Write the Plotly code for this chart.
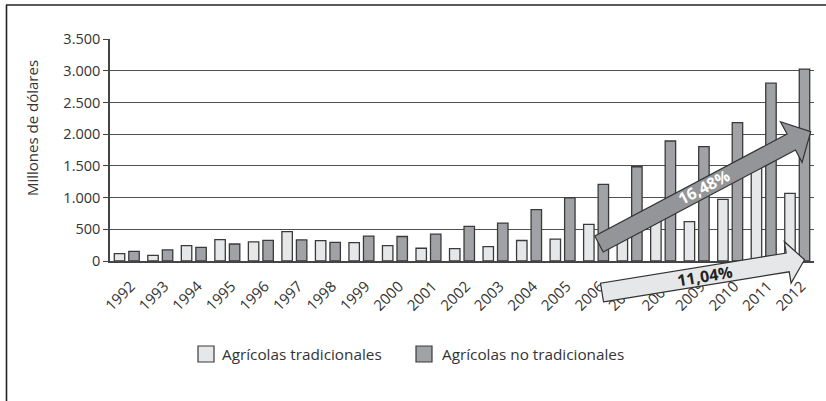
import math
import plotly.graph_objects as go

# Export values, millions of US dollars
years = [str(y) for y in range(1992, 2013)]
tradicionales = [116, 90, 242, 337, 300, 463, 321, 291, 243, 201, 196, 228,
                 323, 344, 577, 460, 690, 622, 970, 1650, 1065]
no_tradicionales = [153, 174, 216, 268, 326, 332, 295, 392, 386, 423, 545, 598,
                    810, 996, 1207, 1486, 1892, 1803, 2182, 2804, 3026]
series_names = ["Agrícolas tradicionales", "Agrícolas no tradicionales"]
growth_labels = ["16,48%", "11,04%"]

W, H = 826, 401
ML, MR, MT, MB = 110, 12, 39, 140
PW, PH = W - ML - MR, H - MT - MB

LIGHT = "#e6e7e8"
DARK = "#a0a2a5"
EDGE = "#3a3a3a"
TEXT = "#333333"
FONT = "Open Sans"


def px(x):
    return (x - ML) / PW


def py(y):
    return (H - MB - y) / PH


def arrow_path(tail, tip, shaft_w, head_w, head_l):
    dx, dy = tip[0] - tail[0], tip[1] - tail[1]
    L = math.hypot(dx, dy)
    ux, uy = dx / L, dy / L
    nx, ny = -uy, ux
    bx, by = tip[0] - ux * head_l, tip[1] - uy * head_l
    s, h = shaft_w / 2, head_w / 2
    pts = [
        (tail[0] + nx * s, tail[1] + ny * s),
        (bx + nx * s, by + ny * s),
        (bx + nx * h, by + ny * h),
        tip,
        (bx - nx * h, by - ny * h),
        (bx - nx * s, by - ny * s),
        (tail[0] - nx * s, tail[1] - ny * s),
    ]
    return "M " + " L ".join(f"{px(x):.5f},{py(y):.5f}" for x, y in pts) + " Z"


def label(text, x, y, size, color=TEXT, angle=0, xanchor="center", bold=False):
    font = dict(family=FONT, size=size, color=color)
    if bold:
        font["weight"] = "bold"
    return dict(text=text, xref="paper", yref="paper", x=px(x), y=py(y),
                xanchor=xanchor, yanchor="middle", textangle=angle,
                showarrow=False, font=font)


fig = go.Figure()
fig.add_trace(go.Bar(x=years, y=tradicionales, name=series_names[0],
                     marker=dict(color=LIGHT, line=dict(color=EDGE, width=1.3))))
fig.add_trace(go.Bar(x=years, y=no_tradicionales, name=series_names[1],
                     marker=dict(color=DARK, line=dict(color=EDGE, width=1.3))))

shapes = []
# growth arrows drawn over the bars
shapes.append(dict(type="path", xref="paper", yref="paper", layer="above",
                   path=arrow_path((599, 244), (810.7, 131.7), 18, 46, 22),
                   fillcolor="#939598", line=dict(color="#333333", width=1.2)))
shapes.append(dict(type="path", xref="paper", yref="paper", layer="above",
                   path=arrow_path((602, 292.5), (804.5, 259.7), 19, 42, 17),
                   fillcolor=LIGHT, line=dict(color="#333333", width=1.2)))
# frame lines
shapes.append(dict(type="line", xref="paper", yref="paper", x0=px(6), x1=px(826),
                   y0=py(5), y1=py(5), line=dict(color="#222222", width=1.6)))
shapes.append(dict(type="line", xref="paper", yref="paper", x0=px(6.5), x1=px(6.5),
                   y0=py(5), y1=py(401), line=dict(color="#222222", width=1.6)))
# legend swatches
for x0, col in [(198, LIGHT), (416, DARK)]:
    shapes.append(dict(type="rect", xref="paper", yref="paper",
                       x0=px(x0), x1=px(x0 + 16), y0=py(362), y1=py(346),
                       fillcolor=col, line=dict(color=EDGE, width=1.2)))

annotations = [
    label("Millones de dólares", 32, 128, 15, angle=-90),
    label(growth_labels[0], 704, 187, 16, color="white", angle=-27.7, bold=True),
    label(growth_labels[1], 705, 276, 16, color="#222222", angle=-9.2, bold=True),
    label(series_names[0], 220, 354, 15.3, xanchor="left"),
    label(series_names[1], 440, 354, 15.3, xanchor="left"),
]

fig.update_layout(
    width=W, height=H,
    margin=dict(l=ML, r=MR, t=MT, b=MB, pad=0),
    paper_bgcolor="white", plot_bgcolor="white",
    separators=",.",
    barmode="group", bargap=0.134, bargroupgap=0.28,
    showlegend=False,
    font=dict(family=FONT, color=TEXT),
    shapes=shapes, annotations=annotations,
    xaxis=dict(type="category", tickangle=-45, tickfont=dict(size=15, color=TEXT),
               showline=True, linecolor="#444444", linewidth=1.5, ticks="",
               ticklabelstandoff=9, ticklabelshift=4,
               showgrid=False),
    yaxis=dict(range=[0, 3500], dtick=500, tickformat=",d",
               tickfont=dict(size=14.5, color=TEXT),
               showgrid=True, gridcolor="#505050", gridwidth=1.2,
               showline=True, linecolor="#444444", linewidth=1.5,
               ticks="outside", ticklen=5, tickcolor="#444444", tickwidth=1.3,
               zeroline=False),
)

fig.write_html("out.html")
